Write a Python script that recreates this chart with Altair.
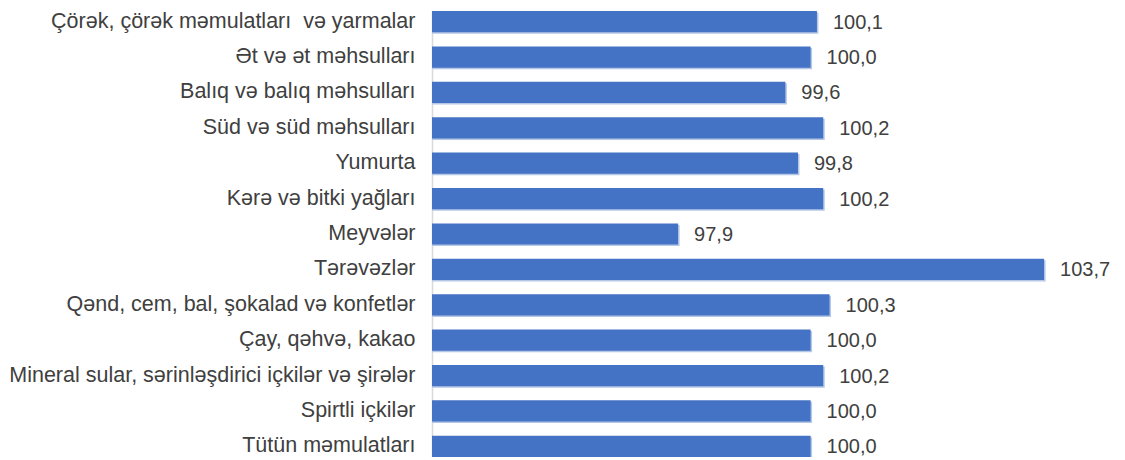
import altair as alt
import pandas as pd

categories = [
    "Çörək, çörək məmulatları \u00a0və yarmalar",
    "Ət və ət məhsulları",
    "Balıq və balıq məhsulları",
    "Süd və süd məhsulları",
    "Yumurta",
    "Kərə və bitki yağları",
    "Meyvələr",
    "Tərəvəzlər",
    "Qənd, cem, bal, şokalad və konfetlər",
    "Çay, qəhvə, kakao",
    "Mineral sular, sərinləşdirici içkilər və şirələr",
    "Spirtli içkilər",
    "Tütün məmulatları",
]
values = [100.1, 100.0, 99.6, 100.2, 99.8, 100.2, 97.9, 103.7, 100.3, 100.0, 100.2, 100.0, 100.0]
axis_min = 94
axis_max = 104

df = pd.DataFrame({"cat": categories, "value": values})

FONT = "Liberation Sans"
BLUE = "#4472C4"

x = alt.X("value:Q", scale=alt.Scale(domain=[axis_min, axis_max], zero=False, nice=False), axis=None)
x2 = alt.X2("base:Q")
y = alt.Y(
    "cat:N",
    sort=categories,
    scale=alt.Scale(paddingInner=0.4, paddingOuter=0),
    axis=alt.Axis(
        title=None,
        ticks=False,
        labelPadding=17,
        labelFont=FONT,
        labelFontSize=21.5,
        labelColor="#404040",
        labelLimit=600,
        domainColor="#D9D9D9",
        domainWidth=1.5,
        grid=False,
    ),
)

base = alt.Chart(df).transform_calculate(base=str(axis_min))

shadow = base.mark_bar(color="#B4C7E7", xOffset=1.5, yOffset=1.5).encode(
    x=x, x2=x2, y=y
)
bars = base.mark_bar(color=BLUE).encode(x=x, x2=x2, y=y)
labels = base.transform_calculate(
    lbl="replace(format(datum.value, '.1f'), '.', ',')"
).mark_text(
    align="left", baseline="middle", dx=16, dy=1, font=FONT, fontSize=20, color="#404040"
).encode(x=x, y=y, text="lbl:N")

chart = (
    alt.layer(shadow, bars, labels)
    .properties(
        width=631,
        height=446,
        autosize=alt.AutoSizeParams(type="none"),
        padding={"left": 424, "top": 3, "right": 50, "bottom": 0},
    )
    .configure_view(stroke=None)
)

chart.save("out.html", embed_options={"renderer": "svg", "actions": False})
